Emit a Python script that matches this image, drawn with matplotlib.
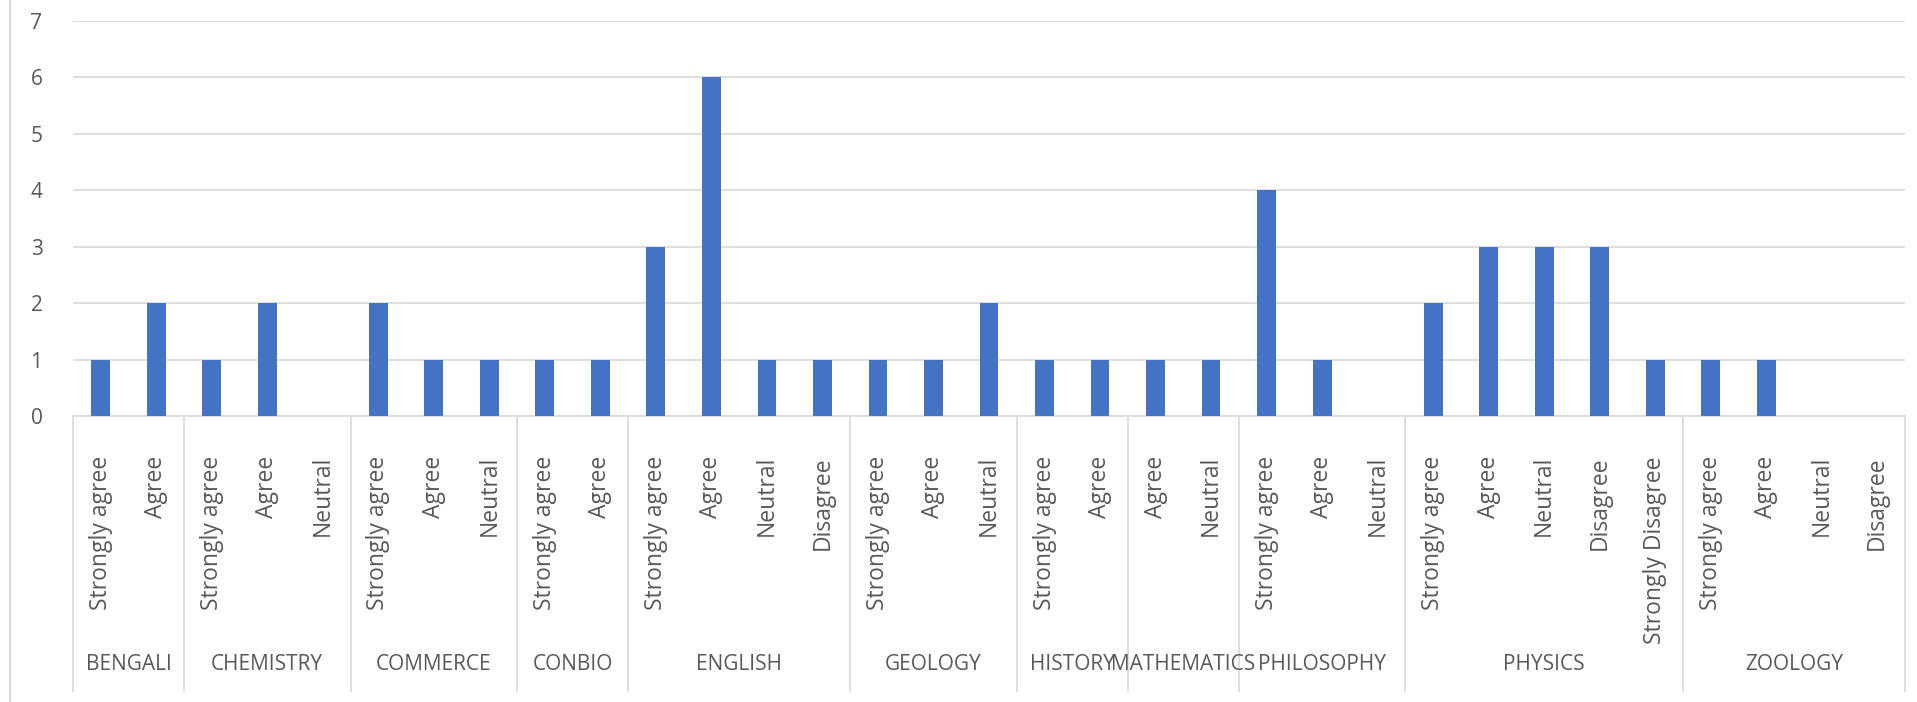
import matplotlib.pyplot as plt
from matplotlib.lines import Line2D

plt.rcParams['font.family'] = ['Open Sans', 'DejaVu Sans']

groups = ['BENGALI', 'CHEMISTRY', 'COMMERCE', 'CONBIO', 'ENGLISH', 'GEOLOGY',
          'HISTORY', 'MATHEMATICS', 'PHILOSOPHY', 'PHYSICS', 'ZOOLOGY']
responses = [
    ['Strongly agree', 'Agree'],
    ['Strongly agree', 'Agree', 'Neutral'],
    ['Strongly agree', 'Agree', 'Neutral'],
    ['Strongly agree', 'Agree'],
    ['Strongly agree', 'Agree', 'Neutral', 'Disagree'],
    ['Strongly agree', 'Agree', 'Neutral'],
    ['Strongly agree', 'Agree'],
    ['Agree', 'Neutral'],
    ['Strongly agree', 'Agree', 'Neutral'],
    ['Strongly agree', 'Agree', 'Neutral', 'Disagree', 'Strongly Disagree'],
    ['Strongly agree', 'Agree', 'Neutral', 'Disagree'],
]
counts = [
    [1, 2],
    [1, 2, 0],
    [2, 1, 1],
    [1, 1],
    [3, 6, 1, 1],
    [1, 1, 2],
    [1, 1],
    [1, 1],
    [4, 1, 0],
    [2, 3, 3, 3, 1],
    [1, 1, 0, 0],
]

W, H = 1917, 702
fig = plt.figure(figsize=(W / 100, H / 100), dpi=100)
left, right, top, base = 73, 1905, 21, 416
ax = fig.add_axes([left / W, 1 - base / H, (right - left) / W, (base - top) / H])
ax_h = base - top

text_col = '#595959'
grid_col = '#D9D9D9'

labels = [r for grp in responses for r in grp]
values = [v for grp in counts for v in grp]
xs = list(range(len(values)))

ax.bar(xs, values, width=0.34, color='#4472C4', zorder=3)
ax.set_xlim(-0.5, len(values) - 0.5)
ax.set_ylim(0, 7)
ax.set_yticks(range(8))
ax.tick_params(axis='y', length=0, labelsize=15, labelcolor=text_col, pad=22)
ax.set_xticks([])
ax.grid(axis='y', color=grid_col, linewidth=1.2, zorder=0)
for s in ['top', 'right', 'left']:
    ax.spines[s].set_visible(False)
ax.spines['bottom'].set_color(grid_col)
ax.spines['bottom'].set_linewidth(1.2)

tr = ax.get_xaxis_transform()
# response labels
for x, lab in zip(xs, labels):
    ax.text(x, -40 / ax_h, lab, transform=tr, rotation=90, ha='center', va='top',
            fontsize=16.5, color=text_col, clip_on=False)

# group labels and dividers
start = 0
bounds = [-0.5]
for g, grp in zip(groups, responses):
    n = len(grp)
    mid = start + (n - 1) / 2
    ax.text(mid, -248 / ax_h, g, transform=tr, ha='center', va='center',
            fontsize=15, color=text_col, clip_on=False)
    start += n
    bounds.append(start - 0.5)
for b in bounds:
    ax.add_line(Line2D([b, b], [0, -275 / ax_h], transform=tr, color=grid_col,
                       linewidth=1.2, clip_on=False))

# chart area border on the left
fig.add_artist(Line2D([10 / W, 10 / W], [0, 1], transform=fig.transFigure,
                      color=grid_col, linewidth=1.5))

fig.savefig('out.png', dpi=100, facecolor='white')
